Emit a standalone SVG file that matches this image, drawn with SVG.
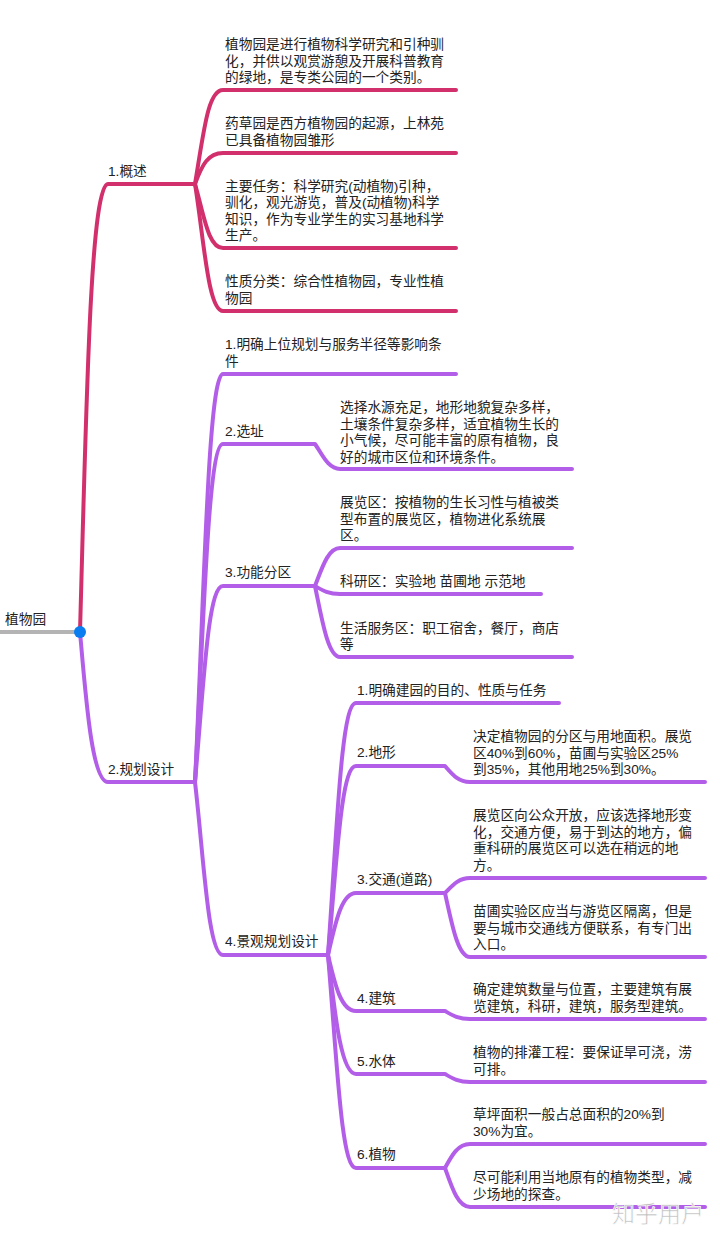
<svg xmlns="http://www.w3.org/2000/svg" width="720" height="1239" viewBox="0 0 720 1239">
<style>
text{font-family:"Liberation Sans","Noto Sans CJK SC",sans-serif;font-size:13.7px;fill:#222}
.l{fill:none;stroke-width:4;stroke-linecap:round;stroke-linejoin:round}
.p{stroke:#d2306c}.v{stroke:#b35ee8}.g{stroke:#b4b4b4}
.w{font-size:23px;fill:#bdbdbd;stroke:#fff;stroke-width:.7px}
</style>
<rect width="720" height="1239" fill="#fff"/>
<g id="connectors">
<path class="l g" d="M0,632H80"/>
<g>
<path class="l p" d="M80,632C86,420 90,184 108,184H195"/>
<path class="l p" d="M195,184C204,130 208,90 223,90H456"/>
<path class="l p" d="M195,184C202,165 208,153 223,153H456"/>
<path class="l p" d="M195,184C204,215 208,248 223,248H456"/>
<path class="l p" d="M195,184C204,240 208,311 223,311H456"/>
</g>
<g>
<path class="l v" d="M80,632C86,700 92,782 108,782H195"/>
<path class="l v" d="M195,782C204,600 208,374 223,374H456"/>
<path class="l v" d="M195,782C204,620 208,444 223,444H315C322,454 328,469 340,469H572"/>
<path class="l v" d="M195,782C204,680 208,586 223,586H315C322,568 328,548 340,548H572"/>
<path class="l v" d="M315,586C322,590 328,594 340,594H541"/>
<path class="l v" d="M315,586C322,620 328,657 340,657H572"/>
<path class="l v" d="M195,782C204,860 208,955 223,955H328"/>
<path class="l v" d="M328,955C337,830 341,703 356,703H559"/>
<path class="l v" d="M328,955C337,860 341,766 356,766H445C452,774 458,782 470,782H705"/>
<path class="l v" d="M328,955C335,925 341,893 356,893H445"/>
<path class="l v" d="M445,893C452,886 458,878 470,878H705"/>
<path class="l v" d="M445,893C452,925 458,957 470,957H705"/>
<path class="l v" d="M328,955C335,985 341,1011 356,1011H445C452,1015 458,1019 470,1019H705"/>
<path class="l v" d="M328,955C335,1015 341,1074 356,1074H445C452,1078 458,1082 470,1082H705"/>
<path class="l v" d="M328,955C337,1060 341,1168 356,1168H445"/>
<path class="l v" d="M445,1168C452,1155 458,1144 470,1144H705"/>
<path class="l v" d="M445,1168C452,1188 458,1207 470,1207H705"/>
</g>
</g>
<g id="root"><text x="5" y="624">植物园</text><circle cx="80" cy="632" r="6" fill="#0a7df0"/></g>
<g id="n1"><text x="108" y="176">1.概述</text></g>
<g id="n1-1"><text x="225" y="49">植物园是进行植物科学研究和引种驯<tspan x="225" dy="16.5">化，并供以观赏游憩及开展科普教育</tspan><tspan x="225" dy="16.5">的绿地，是专类公园的一个类别。</tspan></text></g>
<g id="n1-2"><text x="225" y="128">药草园是西方植物园的起源，上林苑<tspan x="225" dy="16.5">已具备植物园雏形</tspan></text></g>
<g id="n1-3"><text x="225" y="190.500">主要任务：科学研究(动植物)引种，<tspan x="225" dy="16.5">驯化，观光游览，普及(动植物)科学</tspan><tspan x="225" dy="16.5">知识，作为专业学生的实习基地科学</tspan><tspan x="225" dy="16.5">生产。</tspan></text></g>
<g id="n1-4"><text x="225" y="286">性质分类：综合性植物园，专业性植<tspan x="225" dy="16.5">物园</tspan></text></g>
<g id="n2"><text x="108" y="774">2.规划设计</text></g>
<g id="n2-1"><text x="225" y="349">1.明确上位规划与服务半径等影响条<tspan x="225" dy="16.5">件</tspan></text></g>
<g id="n2-2"><text x="225" y="436">2.选址</text></g>
<g id="n2-2-1"><text x="340" y="412">选择水源充足，地形地貌复杂多样，<tspan x="340" dy="16.5">土壤条件复杂多样，适宜植物生长的</tspan><tspan x="340" dy="16.5">小气候，尽可能丰富的原有植物，良</tspan><tspan x="340" dy="16.5">好的城市区位和环境条件。</tspan></text></g>
<g id="n2-3"><text x="225" y="577">3.功能分区</text></g>
<g id="n2-3-1"><text x="340" y="507">展览区：按植物的生长习性与植被类<tspan x="340" dy="16.5">型布置的展览区，植物进化系统展</tspan><tspan x="340" dy="16.5">区。</tspan></text></g>
<g id="n2-3-2"><text x="340" y="586">科研区：实验地 苗圃地 示范地</text></g>
<g id="n2-3-3"><text x="340" y="632.500">生活服务区：职工宿舍，餐厅，商店<tspan x="340" dy="16.5">等</tspan></text></g>
<g id="n2-4"><text x="225" y="946">4.景观规划设计</text></g>
<g id="n2-4-1"><text x="357" y="695">1.明确建园的目的、性质与任务</text></g>
<g id="n2-4-2"><text x="357" y="757">2.地形</text></g>
<g id="n2-4-2-1"><text x="473" y="741">决定植物园的分区与用地面积。展览<tspan x="473" dy="16.5">区40%到60%，苗圃与实验区25%</tspan><tspan x="473" dy="16.5">到35%，其他用地25%到30%。</tspan></text></g>
<g id="n2-4-3"><text x="357" y="884">3.交通(道路)</text></g>
<g id="n2-4-3-1"><text x="473" y="820">展览区向公众开放，应该选择地形变<tspan x="473" dy="16.5">化，交通方便，易于到达的地方，偏</tspan><tspan x="473" dy="16.5">重科研的展览区可以选在稍远的地</tspan><tspan x="473" dy="16.5">方。</tspan></text></g>
<g id="n2-4-3-2"><text x="473" y="916">苗圃实验区应当与游览区隔离，但是<tspan x="473" dy="16.5">要与城市交通线方便联系，有专门出</tspan><tspan x="473" dy="16.5">入口。</tspan></text></g>
<g id="n2-4-4"><text x="357" y="1003">4.建筑</text></g>
<g id="n2-4-4-1"><text x="473" y="994">确定建筑数量与位置，主要建筑有展<tspan x="473" dy="16.5">览建筑，科研，建筑，服务型建筑。</tspan></text></g>
<g id="n2-4-5"><text x="357" y="1066">5.水体</text></g>
<g id="n2-4-5-1"><text x="473" y="1057">植物的排灌工程：要保证旱可浇，涝<tspan x="473" dy="16.5">可排。</tspan></text></g>
<g id="n2-4-6"><text x="357" y="1159">6.植物</text></g>
<g id="n2-4-6-1"><text x="473" y="1119">草坪面积一般占总面积的20%到<tspan x="473" dy="16.5">30%为宜。</tspan></text></g>
<g id="n2-4-6-2"><text x="473" y="1182">尽可能利用当地原有的植物类型，减<tspan x="473" dy="16.5">少场地的探查。</tspan></text></g>
<text class="w" x="612" y="1222">知乎用户</text>
</svg>
